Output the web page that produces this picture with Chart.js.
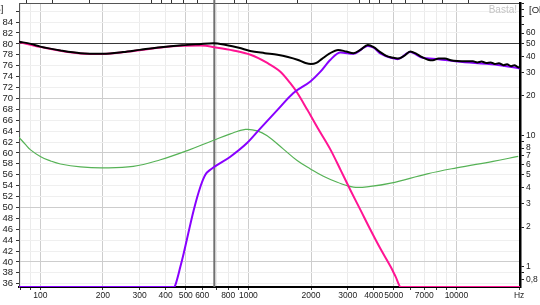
<!DOCTYPE html>
<html>
<head>
<meta charset="utf-8">
<script src="https://cdn.jsdelivr.net/npm/chart.js@4.4.1/dist/chart.umd.min.js"></script>
<style>
  html, body { margin: 0; padding: 0; background: #fff; }
  canvas { display: block; }
</style>
</head>
<body>
<canvas id="fr" width="540" height="305"></canvas>
<script>
// Summed response (black), dB
const sumHz = [79, 90, 100, 125, 156, 200, 250, 300, 380, 480, 580, 680, 780, 900, 1020, 1200, 1380, 1550, 1720, 1880, 2000, 2120, 2250, 2450, 2700, 2950, 3200, 3450, 3750, 4000, 4300, 4600, 4900, 5220, 5600, 6000, 6400, 6800, 7300, 7700, 8200, 8800, 9400, 10100, 11000, 12000, 12600, 13200, 13900, 14600, 15300, 16000, 16800, 17500, 18300, 19000, 19600, 20200];
const sumDb = [80.4, 80.0, 79.5, 78.8, 78.3, 78.2, 78.5, 78.9, 79.4, 79.75, 79.95, 80.1, 79.8, 79.3, 78.7, 78.3, 78.0, 77.6, 77.1, 76.5, 76.3, 76.5, 77.2, 78.2, 78.9, 78.6, 78.3, 78.9, 79.8, 79.4, 78.5, 77.8, 77.5, 77.3, 77.8, 78.6, 78.2, 77.6, 77.1, 77.0, 77.3, 77.3, 77.0, 76.85, 76.8, 76.8, 76.6, 76.75, 76.5, 76.6, 76.3, 76.45, 76.1, 76.25, 75.9, 76.1, 75.8, 75.6];

// Low-pass branch (pink), dB
const lowHz = [79, 100, 156, 200, 300, 380, 480, 590, 710, 846, 1024, 1233, 1425, 1590, 1720, 1920, 2150, 2480, 2780, 3090, 3460, 3860, 4300, 4830, 5100, 5400, 8000, 20200];
const lowDb = [80.35, 79.45, 78.25, 78.15, 78.85, 79.35, 79.65, 79.7, 79.3, 78.8, 78.0, 76.5, 74.9, 72.8, 71.0, 67.9, 64.6, 60.6, 56.8, 53.2, 49.5, 45.9, 42.5, 39.1, 37.3, 35.4, 35.4, 35.4];

// High-pass branch (purple), dB
const highHz = [79, 300, 440, 446, 471, 489, 546, 588, 621, 656, 819, 985, 1142, 1380, 1646, 1986, 2220, 2480, 2770, 3200, 3750, 4000, 4320, 4900, 5220, 6000, 6800, 8200, 10100, 15300, 20200];
const highDb = [35.4, 35.4, 35.4, 35.8, 39.1, 41.6, 49.5, 53.8, 56.0, 56.9, 59.3, 61.8, 64.5, 67.9, 71.0, 73.1, 74.9, 77.1, 78.4, 78.2, 79.6, 79.3, 78.2, 77.4, 77.2, 78.5, 77.5, 77.2, 76.75, 76.2, 75.5];

// Impedance (green), ohm on the right axis
const impHz = [79, 85, 89.5, 100, 112, 125, 156, 200, 280, 378, 509, 680, 819, 968, 1105, 1231, 1474, 1715, 1986, 2294, 2675, 3200, 3860, 4830, 7240, 10000, 15000, 19800];
const impOhm = [9.66, 8.48, 7.78, 6.89, 6.38, 6.05, 5.75, 5.65, 5.80, 6.52, 7.65, 9.17, 10.26, 11.09, 10.81, 9.91, 7.85, 6.43, 5.55, 4.88, 4.39, 4.03, 4.08, 4.32, 5.09, 5.65, 6.34, 6.91];

// axes
const xTickHz = [80, 90, 100, 200, 300, 400, 500, 600, 700, 800, 900, 1000, 2000, 3000, 4000, 5000, 6000, 7000, 8000, 9000, 10000, 20000];
const xLabelled = [100, 200, 300, 400, 500, 600, 800, 1000, 2000, 3000, 4000, 5000, 7000, 10000];
const dbTicks = [36, 38, 40, 42, 44, 46, 48, 50, 52, 54, 56, 58, 60, 62, 64, 66, 68, 70, 72, 74, 76, 78, 80, 82, 84, 86];
const ohmTicks = [0.8, 0.9, 1, 2, 3, 4, 5, 6, 7, 8, 9, 10, 20, 30, 40, 50, 60, 70, 80, 90, 100];
const ohmLabelled = [0.8, 1, 2, 3, 4, 5, 6, 7, 8, 10, 20, 30, 40, 50, 60];
const topTickMetres = [4, 3, 2, 1, 0.9, 0.8, 0.7, 0.6, 0.5, 0.4, 0.35, 0.2, 0.1, 0.09, 0.08, 0.07, 0.06, 0.05, 0.04, 0.03];
const SOUND_SPEED = 343;
const markerHz = 686;

const pts = (xs, ys) => xs.map((x, i) => ({ x: x, y: ys[i] }));

Chart.defaults.font.family = "'Liberation Sans', Arial, sans-serif";
Chart.defaults.color = '#222';

function fixSize(w, h) {
    return scale => {
        if (w !== null) scale.width = w;
        if (h !== null) scale.height = h;
        scale.paddingTop = 0;
        scale.paddingBottom = 0;
        scale.paddingLeft = 0;
        scale.paddingRight = 0;
    };
}

const decorations = {
    id: 'decorations',
    beforeDatasetsDraw(chart) {
        const { ctx, chartArea, scales } = chart;
        const px = scales.x.getPixelForValue(markerHz);
        ctx.save();
        ctx.strokeStyle = '#707070';
        ctx.lineWidth = 2;
        ctx.beginPath();
        ctx.moveTo(px, 0);
        ctx.lineTo(px, chartArea.bottom);
        ctx.stroke();
        ctx.restore();
    },
    afterDraw(chart) {
        const ctx = chart.ctx;
        ctx.save();
        ctx.textBaseline = 'middle';
        ctx.fillStyle = '#c4c4c4';
        ctx.font = "10px 'Liberation Sans', Arial";
        ctx.textAlign = 'right';
        ctx.fillText('Basta!', 517, 10);
        ctx.fillStyle = '#222';
        ctx.font = "9.5px 'Liberation Sans', Arial";
        ctx.fillText('[dB]', 3.5, 9);
        ctx.textAlign = 'left';
        ctx.fillText('[Ohm]', 529, 10);
        ctx.restore();
    }
};

const isMajor = v => {
    const m = Math.round(v / Math.pow(10, Math.floor(Math.log10(v) + 1e-9)));
    return m === 1 || m === 2 || m === 5;
};

new Chart(document.getElementById('fr'), {
    type: 'line',
    data: {
        datasets: [
            { label: 'Sum', data: pts(sumHz, sumDb), borderColor: '#000', borderWidth: 2, yAxisID: 'y' },
            { label: 'High', data: pts(highHz, highDb), borderColor: '#8800ff', borderWidth: 2, yAxisID: 'y' },
            { label: 'Low', data: pts(lowHz, lowDb), borderColor: '#ff1493', borderWidth: 2, yAxisID: 'y' },
            { label: 'Impedance', data: pts(impHz, impOhm), borderColor: 'rgb(86,178,86)', borderWidth: 1.2, yAxisID: 'y2',
              cubicInterpolationMode: 'default', tension: 0.4 }
        ]
    },
    options: {
        responsive: false,
        animation: false,
        devicePixelRatio: 1,
        layout: { padding: 0 },
        elements: {
            point: { radius: 0 },
            line: { cubicInterpolationMode: 'monotone', fill: false }
        },
        plugins: { legend: { display: false }, tooltip: { enabled: false } },
        scales: {
            x: {
                type: 'logarithmic',
                position: 'bottom',
                min: 79,
                max: 20200,
                afterBuildTicks: s => { s.ticks = xTickHz.map(v => ({ value: v })); },
                afterFit: fixSize(null, 18),
                ticks: {
                    autoSkip: false, maxRotation: 0, minRotation: 0, padding: 1,
                    font: { size: 8.5 },
                    callback: v => v === 20000 ? 'Hz' : (xLabelled.includes(v) ? String(v) : '')
                },
                grid: {
                    color: c => isMajor(c.tick.value) ? '#cdcdcd' : '#ebebeb',
                    tickColor: '#333', tickLength: 3
                },
                border: { color: '#000', width: 2 }
            },
            x2: {
                type: 'logarithmic',
                position: 'top',
                min: 79,
                max: 20200,
                afterBuildTicks: s => { s.ticks = topTickMetres.map(m => ({ value: SOUND_SPEED / m })); },
                afterFit: fixSize(null, 3),
                ticks: { display: false, autoSkip: false },
                grid: { drawOnChartArea: false, tickColor: '#333', tickLength: 3 },
                border: { color: '#555', width: 1 }
            },
            y: {
                type: 'linear',
                position: 'left',
                min: 35.4,
                max: 87.5,
                afterBuildTicks: s => { s.ticks = dbTicks.map(v => ({ value: v })); },
                afterFit: fixSize(19, null),
                ticks: {
                    autoSkip: false, padding: 3,
                    font: { size: 9.5 },
                    callback: v => v === 86 ? '' : String(v)
                },
                grid: {
                    color: c => c.tick.value === 80 ? '#3a3a3a' : (c.tick.value % 10 === 0 ? '#cdcdcd' : '#efefef'),
                    tickColor: '#333', tickLength: 3
                },
                border: { color: '#555', width: 1 }
            },
            y2: {
                type: 'logarithmic',
                position: 'right',
                min: 0.745,
                max: 101.7,
                afterBuildTicks: s => { s.ticks = ohmTicks.map(v => ({ value: v })); },
                afterFit: fixSize(20, null),
                ticks: {
                    autoSkip: false, padding: 2,
                    font: { size: 8.5 },
                    callback: v => ohmLabelled.includes(v) ? String(v).replace('.', ',') : ''
                },
                grid: { drawOnChartArea: false, tickColor: '#222', tickLength: 4 },
                border: { color: '#000', width: 2.5 }
            }
        }
    },
    plugins: [decorations]
});
</script>
</body>
</html>
